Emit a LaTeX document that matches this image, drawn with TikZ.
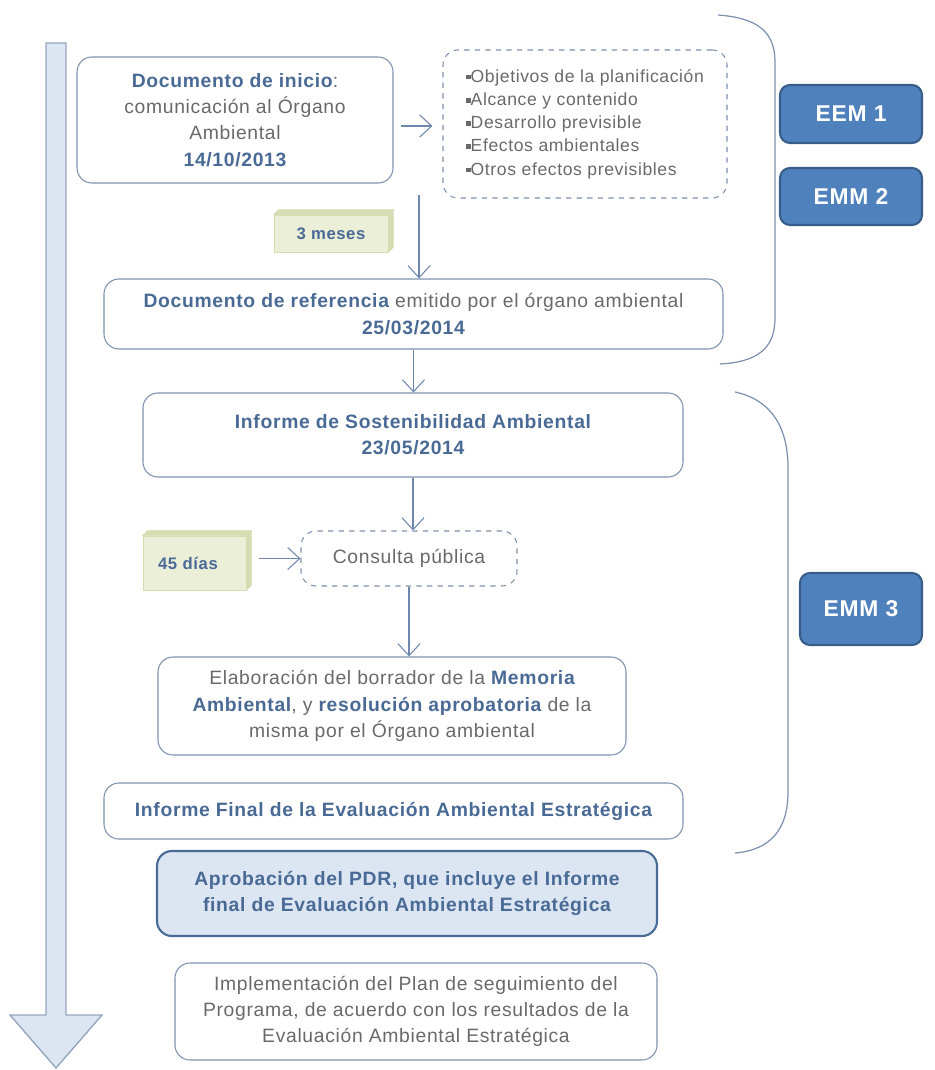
\documentclass[tikz,border=0pt]{standalone}
\usepackage{fontspec}
\setmainfont{Liberation Sans}[LetterSpace=3.5]
\usetikzlibrary{arrows.meta, positioning}

\definecolor{titleblue}{RGB}{74,106,150}
\definecolor{textgray}{RGB}{105,105,105}
\definecolor{framegray}{RGB}{125,145,175}
\definecolor{linkblue}{RGB}{110,135,175}
\definecolor{tagblue}{RGB}{79,129,189}
\definecolor{tagframe}{RGB}{56,93,138}
\definecolor{paleblue}{RGB}{220,230,242}
\definecolor{palegreen}{RGB}{236,239,216}
\definecolor{sidegreen}{RGB}{214,220,178}

\newcommand{\kw}[1]{\textcolor{titleblue}{\bfseries #1}}
\newcommand{\sq}{\raisebox{0.3ex}{\rule{0.5ex}{0.5ex}}}

\begin{document}
\begin{tikzpicture}[x=0.2mm, y=-0.2mm,
box/.style={rectangle, draw=framegray, line width=0.6pt, rounded corners=3mm, align=center, text=textgray, font=\fontsize{11}{15}\selectfont, inner sep=2pt},
dashbox/.style={box, dashed},
tag/.style={rectangle, draw=tagframe, line width=1.2pt, fill=tagblue, rounded corners=2mm, text=white, font=\fontsize{13}{15}\selectfont\bfseries},
period/.style={rectangle, fill=palegreen, draw=sidegreen, line width=0.4pt, text=titleblue, font=\fontsize{9.5}{11}\selectfont\bfseries},
periodside/.style={fill=sidegreen, draw=sidegreen, line width=0.4pt},
arrow/.style={-{Straight Barb[length=2.4mm, width=4.4mm]}, line width=0.6pt, linkblue},
brace/.style={draw=framegray, line width=0.7pt},
bigarrow/.style={fill=paleblue, draw=framegray!80, line width=0.8pt}
]
\useasboundingbox (0,0) rectangle (934,1070);

% time line
\draw[bigarrow] (46,43) -- (66,43) -- (66,1015) -- (102,1015) -- (56,1068) -- (10,1015) -- (46,1015) -- cycle;

% first stage
\node[box, minimum width=63.2mm, minimum height=25.2mm] (inicio) at (235,120) {\kw{Documento de inicio}:\\comunicación al Órgano\\Ambiental\\\kw{14/10/2013}};
\node[dashbox, align=left, minimum width=56.8mm, minimum height=29.6mm, font=\fontsize{10}{13.2}\selectfont] (contenido) at (585,124) {\sq Objetivos de la planificación\\\sq Alcance y contenido\\\sq Desarrollo previsible\\\sq Efectos ambientales\\\sq Otros efectos previsibles};
\node[period, minimum width=22.8mm, minimum height=7.4mm] (meses) at (331,233.5) {3 meses};
\draw[periodside] (meses.north west) -- ++(5,-5) -- ([shift={(5,-5)}]meses.north east) -- (meses.north east) -- cycle;
\draw[periodside] (meses.north east) -- ++(5,-5) -- ([shift={(5,-5)}]meses.south east) -- (meses.south east) -- cycle;
\node[box, minimum width=123.8mm, minimum height=14mm] (referencia) at (413.5,314) {\kw{Documento de referencia} emitido por el órgano ambiental\\\kw{25/03/2014}};

% second stage
\node[box, minimum width=108mm, minimum height=16.8mm] (sostenibilidad) at (413,435) {\kw{Informe de Sostenibilidad Ambiental}\\\kw{23/05/2014}};
\node[period, align=left, text width=14.6mm, inner xsep=3mm, minimum height=10.8mm] (dias) at (194.5,563) {45 días};
\draw[periodside] (dias.north west) -- ++(5,-5) -- ([shift={(5,-5)}]dias.north east) -- (dias.north east) -- cycle;
\draw[periodside] (dias.north east) -- ++(5,-5) -- ([shift={(5,-5)}]dias.south east) -- (dias.south east) -- cycle;
\node[dashbox, minimum width=43.2mm, minimum height=11mm] (consulta) at (409,558.5) {Consulta pública};
\node[box, minimum width=93.6mm, minimum height=19.6mm] (memoria) at (392,706) {Elaboración del borrador de la \kw{Memoria}\\\kw{Ambiental}, y \kw{resolución aprobatoria} de la\\misma por el Órgano ambiental};
\node[box, minimum width=115.8mm, minimum height=11.2mm] (final) at (393.5,811) {\kw{Informe Final de la Evaluación Ambiental Estratégica}};

% approval and follow-up
\node[box, fill=paleblue, draw=titleblue, line width=1.2pt, minimum width=100mm, minimum height=17mm] (pdr) at (407,893.5) {\kw{Aprobación del PDR, que incluye el Informe}\\\kw{final de Evaluación Ambiental Estratégica}};
\node[box, minimum width=96.4mm, minimum height=19.4mm] (seguimiento) at (416,1011.5) {Implementación del Plan de seguimiento del\\Programa, de acuerdo con los resultados de la\\Evaluación Ambiental Estratégica};

% stage labels
\node[tag, minimum width=28.4mm, minimum height=11.6mm] (eem1) at (851,114) {EEM 1};
\node[tag, minimum width=28.4mm, minimum height=11.4mm] (emm2) at (851,196.5) {EMM 2};
\node[tag, minimum width=24.4mm, minimum height=14.4mm] (emm3) at (861,609) {EMM 3};

% brackets
\draw[brace] (718,15) .. controls (758,18) and (775,32) .. (775,62) -- (775,318) .. controls (775,348) and (758,362) .. (720,364);
\draw[brace] (735,392) .. controls (772,400) and (788,428) .. (788,468) -- (788,792) .. controls (788,830) and (770,850) .. (735,853);

% connectors
\coordinate (ctail) at ([yshift=-1.2mm]inicio.east);
\draw[arrow, shorten <=1.4mm, shorten >=2mm] (ctail) -- (ctail -| contenido.west);
\coordinate (plazo) at (419,195);
\draw[arrow] (plazo) -- (plazo |- referencia.north);
\draw[arrow] (referencia.south) -- (referencia.south |- sostenibilidad.north);
\draw[arrow] (sostenibilidad.south) -- (sostenibilidad.south |- consulta.north);
\draw[arrow, shorten <=2.6mm] (consulta.west -| dias.east) -- (consulta.west);
\draw[arrow] (consulta.south) -- (consulta.south |- memoria.north);
\end{tikzpicture}
\end{document}
